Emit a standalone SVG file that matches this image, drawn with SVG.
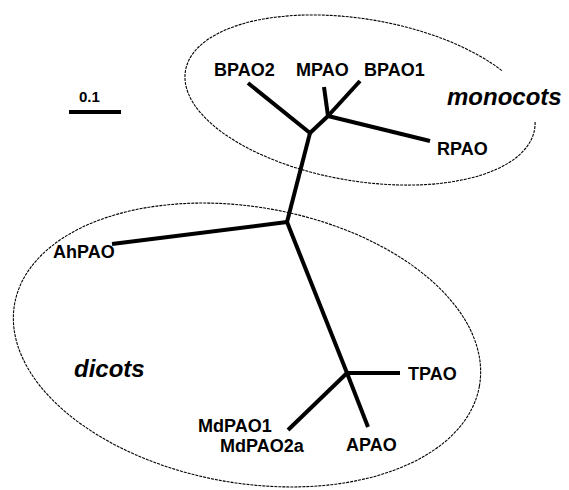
<svg xmlns="http://www.w3.org/2000/svg" width="569" height="490" viewBox="0 0 569 490">
  <style>
    .lbl { font-family: "Liberation Sans", Arial, sans-serif; font-weight: bold; font-size: 18px; fill: #000; }
    .grp { font-family: "Liberation Sans", Arial, sans-serif; font-weight: bold; font-style: italic; font-size: 24px; fill: #000; }
    .scale { font-family: "Liberation Sans", Arial, sans-serif; font-weight: bold; font-size: 15px; fill: #000; }
    .branch { stroke: #000; stroke-width: 4; fill: none; stroke-linecap: butt; stroke-linejoin: round; }
    .clade { stroke: #000; stroke-width: 1.1; fill: none; stroke-dasharray: 3 1; }
  </style>
  <rect width="569" height="490" fill="#fff"/>

  <!-- clade outlines -->
  <g id="clades">
    <!-- monocot outline, open where the group label crosses it -->
    <path class="clade" d="M 535.1 122.1 A 177 81 9.5 1 1 502.3 71.0"/>
    <ellipse class="clade" cx="247" cy="345" rx="236" ry="138" transform="rotate(10 247 345)"/>
  </g>

  <!-- scale bar -->
  <g id="scale-bar">
    <line class="branch" x1="69" y1="112" x2="121" y2="112" stroke-width="3.5"/>
    <text class="scale" x="79" y="102">0.1</text>
  </g>

  <!-- tree branches -->
  <g id="connectors">
    <line class="branch" x1="287" y1="222" x2="112" y2="244"/>
    <line class="branch" x1="287" y1="222" x2="310" y2="133"/>
    <line class="branch" x1="310" y1="133" x2="248" y2="83"/>
    <line class="branch" x1="310" y1="133" x2="328" y2="116"/>
    <line class="branch" x1="328" y1="116" x2="324" y2="87"/>
    <line class="branch" x1="328" y1="116" x2="360" y2="81"/>
    <line class="branch" x1="328" y1="116" x2="430" y2="141"/>
    <line class="branch" x1="287" y1="222" x2="347" y2="373"/>
    <line class="branch" x1="347" y1="373" x2="400" y2="373"/>
    <line class="branch" x1="347" y1="373" x2="368" y2="427"/>
    <line class="branch" x1="347" y1="373" x2="288" y2="430"/>
  </g>

  <!-- leaf labels -->
  <g id="BPAO2"><text class="lbl" x="214" y="76">BPAO2</text></g>
  <g id="MPAO"><text class="lbl" x="296" y="76">MPAO</text></g>
  <g id="BPAO1"><text class="lbl" x="364" y="76">BPAO1</text></g>
  <g id="RPAO"><text class="lbl" x="437" y="155">RPAO</text></g>
  <g id="AhPAO"><text class="lbl" x="53" y="258">AhPAO</text></g>
  <g id="TPAO"><text class="lbl" x="408" y="380">TPAO</text></g>
  <g id="APAO"><text class="lbl" x="346" y="451">APAO</text></g>
  <g id="MdPAO"><text class="lbl" x="198" y="432">MdPAO1</text><text class="lbl" x="220" y="452">MdPAO2a</text></g>

  <!-- group labels -->
  <g id="monocots"><text class="grp" x="447" y="105">monocots</text></g>
  <g id="dicots"><text class="grp" x="74" y="377">dicots</text></g>
</svg>
